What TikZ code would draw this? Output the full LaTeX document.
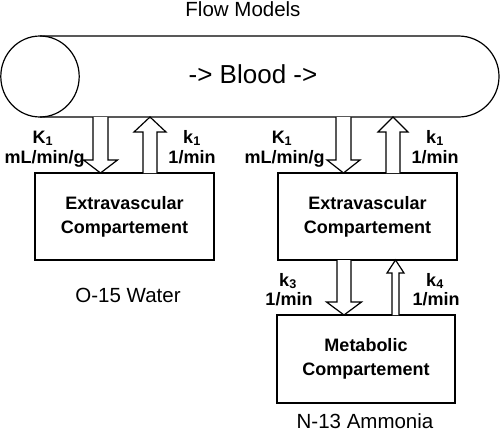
\documentclass[tikz,border=0pt]{standalone}
\usepackage{fontspec}
\setmainfont{Liberation Sans}
\newcommand\blockarr[6]{% x, ytail, yheadbase, ytip, shaft half, head half
  \draw[blkarrow] ({#1-#5},#2) -- ({#1-#5},#3) -- ({#1-#6},#3) -- (#1,#4) -- ({#1+#6},#3) -- ({#1+#5},#3) -- ({#1+#5},#2);}
\begin{document}
\begin{tikzpicture}[x=1pt,y=1pt,
  line width=1.2pt,
  tube/.style={draw=black, line width=1.2pt},
  compbox/.style={draw=black, line width=1.2pt, minimum width=179pt, minimum height=87pt,
     inner sep=0pt, align=center, font=\fontsize{18}{24}\selectfont\bfseries},
  blkarrow/.style={draw=black, fill=white, line width=1.2pt, line join=miter},
  lbl/.style={anchor=base, inner sep=0pt, font=\fontsize{18}{20}\selectfont\bfseries},
  title/.style={anchor=base, inner sep=0pt, font=\fontsize{20.5}{24}\selectfont}
]
\useasboundingbox (0,0) rectangle (500,-434);

% title
\node[title] (flow) at (243,-16) {Flow Models};

% blood vessel (cylinder)
\draw[tube] (40,-36) -- (458.5,-36) arc[start angle=90, end angle=-90, radius=40.5pt] -- (40,-117);
\draw[tube] (40,-76.5) ellipse[x radius=39.2pt, y radius=40.5pt];
\node[anchor=base, inner sep=0pt, font=\fontsize{26}{30}\selectfont] (blood) at (253,-83) {-> Blood ->};

% compartments
\node[compbox] (ev1) at (124.5,-216.5) {Extravascular\\Compartement};
\node[compbox] (ev2) at (367.5,-216.5) {Extravascular\\Compartement};
\node[compbox, minimum width=178pt, minimum height=88pt] (met) at (366,-359) {Metabolic\\Compartement};

% block arrows
\blockarr{100.5}{-117}{-160}{-173}{7.5}{17}
\blockarr{150}{-173}{-132}{-117}{7}{16}
\blockarr{343.5}{-117}{-160}{-173}{7.5}{16.5}
\blockarr{393}{-173}{-132}{-117}{7}{15}
\blockarr{344}{-260}{-302}{-315}{7}{17.5}
\blockarr{395.5}{-315}{-273}{-260}{3.5}{8.5}

% rate labels
\node[lbl] (K1a) at (43,-143) {K\textsubscript{1}};
\node[lbl] (K1au) at (44.5,-163) {mL/min/g};
\node[lbl] (k1a) at (192,-143) {k\textsubscript{1}};
\node[lbl] (k1au) at (192,-163) {1/min};
\node[lbl] (K1b) at (282,-143) {K\textsubscript{1}};
\node[lbl] (K1bu) at (284.5,-163) {mL/min/g};
\node[lbl] (k1b) at (435,-143) {k\textsubscript{1}};
\node[lbl] (k1bu) at (435,-163) {1/min};
\node[lbl] (k3) at (288,-286) {k\textsubscript{3}};
\node[lbl] (k3u) at (289,-305) {1/min};
\node[lbl] (k4) at (435,-286) {k\textsubscript{4}};
\node[lbl] (k4u) at (436,-305) {1/min};

% captions
\node[title] (water) at (128,-302) {O-15 Water};
\node[title] (ammonia) at (365,-428.5) {N-13 Ammonia};
\end{tikzpicture}
\end{document}
